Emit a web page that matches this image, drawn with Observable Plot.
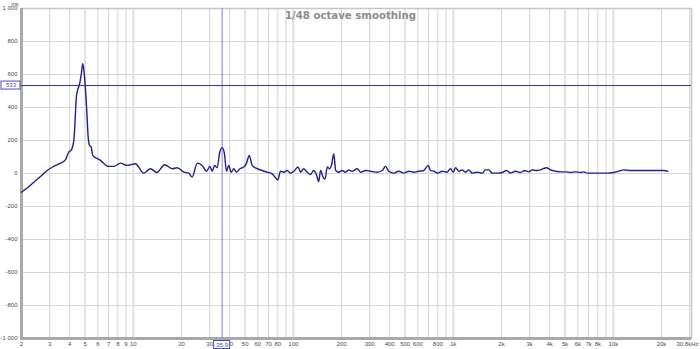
<!DOCTYPE html>
<html>
<head>
<meta charset="utf-8">
<script src="https://cdn.jsdelivr.net/npm/d3@7"></script>
<script src="https://cdn.jsdelivr.net/npm/@observablehq/plot@0.6"></script>
<style>
  html, body { margin: 0; padding: 0; background: #ffffff; }
  #chart svg { display: block; }
</style>
</head>
<body>
<div id="chart"></div>
<script>
// ---- Data (frequency in Hz, group delay in ms) ----
const freqs = [2, 2.17, 2.39, 2.63, 2.89, 3.18, 3.51, 3.77, 3.95, 4.09, 4.25, 4.41, 4.5, 4.63, 4.74, 4.83, 4.95, 5.10, 5.22, 5.32, 5.45, 5.58, 6.23, 7.02, 7.55, 8.31, 9.15, 10.3, 11.6, 12.8, 14.0, 15.7, 17.5, 18.8, 20.7, 22.2, 23.3, 25.1, 26.9, 28.7, 30.1, 31.1, 32.2, 33.4, 34.7, 35.9, 37.1, 38.2, 39.5, 40.9, 42.5, 44.1, 46.3, 49.0, 51.0, 53.0, 55.3, 59.4, 63.9, 68.6, 73.8, 77.4, 80.0, 83.1, 87.2, 91.5, 96.0, 100.7, 107, 111, 116, 122, 128, 134, 140, 144, 148, 154, 158, 163, 169, 173, 179, 184, 192, 202, 212, 222, 233, 251, 263, 283, 304, 334, 359, 377, 395, 425, 456, 490, 527, 566, 608, 654, 697, 720, 755, 800, 852, 915, 960, 998, 1032, 1082, 1136, 1191, 1249, 1312, 1410, 1515, 1589, 1666, 1750, 1880, 2020, 2150, 2276, 2446, 2629, 2785, 2962, 3112, 3310, 3506, 3677, 3822, 4049, 4352, 4676, 5024, 5398, 5800, 6233, 6538, 6866, 7550, 8314, 9153, 10066, 10816, 11624, 12802, 14096, 16280, 18800, 20674, 21898];
const delays = [-114, -88, -53, -18, 18, 43, 63, 84, 130, 141, 202, 467, 510, 549, 610, 667, 589, 405, 222, 171, 161, 110, 80, 43, 43, 63, 49, 59, 2, 29, 6, 53, 29, 35, 8, 2, -22, 63, 49, 14, 43, 14, 49, 35, 130, 157, 120, 14, 49, 8, 29, 8, 29, 39, 63, 110, 49, 29, 18, 8, -2, -26, -39, 14, 8, 18, 2, 14, 39, 8, 29, 8, -6, 18, -12, -49, 18, -26, -33, 39, 29, 49, 120, 18, 8, 18, 8, 22, 14, 29, 8, 18, 14, 8, 18, 43, 14, 2, 14, 2, 14, 8, 14, 18, 49, 18, 14, 2, 14, 8, 29, 8, 35, 14, 22, 8, 22, 2, 8, 2, 22, 22, 2, 2, 6, 18, 2, 14, 6, 18, 10, 22, 18, 22, 31, 35, 22, 14, 10, 10, 6, 10, 6, 10, 2, 2, 2, 2, 6, 14, 22, 18, 18, 18, 18, 18, 14];

// ---- Axes / tick labels ----
const xDomain = [2, 30800];
const yDomain = [-1000, 1000];
const gridFreqs = [2,3,4,5,6,7,8,9,10,20,30,40,50,60,70,80,90,100,200,300,400,500,600,700,800,900,1000,2000,3000,4000,5000,6000,7000,8000,9000,10000,20000,30000];
const majorGridFreqs = [5, 10, 50, 100, 500, 1000, 5000, 10000];
const xTickValues = [2,3,4,5,6,7,8,9,10,20,30,40,50,60,70,80,100,200,300,400,500,600,800,1000,2000,3000,4000,5000,6000,7000,8000,10000,20000];
const xTickLabels = ["2","3","4","5","6","7","8","9","10","20","30","40","50","60","70","80","100","200","300","400","500","600","800","1k","2k","3k","4k","5k","6k","7k","8k","10k","20k"];
const xEndValue = 30800;
const xEndLabel = "30,8kHz";
const yTickValues = [-1000,-800,-600,-400,-200,0,200,400,600,800,1000];
const yTickLabels = ["-1 000","-800","-600","-400","-200","0","200","400","600","800","1 000"];
const yUnit = "ms";
const title = "1/48 octave smoothing";
const cursorFreq = 35.9;
const cursorFreqLabel = "35,9";
const cursorDelay = 533;
const cursorDelayLabel = "533";

const data = freqs.map((f, i) => ({f, d: delays[i]}));

const FONT = "'Liberation Sans', Arial, sans-serif";
const cursorBlue = "#4848d0";
const labelGray = "#4a4a4a";

const chart = Plot.plot({
  width: 700,
  height: 349,
  marginLeft: 21,
  marginRight: 9,
  marginTop: 8,
  marginBottom: 11,
  style: {fontFamily: FONT, background: "#ffffff", overflow: "visible"},
  x: {type: "log", domain: xDomain, label: null, axis: null},
  y: {domain: yDomain, label: null, axis: null},
  marks: [
    // grid
    Plot.ruleY(yTickValues, {stroke: "#d6d6d6", strokeWidth: 1}),
    Plot.ruleX(gridFreqs, {stroke: "#d2d2d2", strokeWidth: 1}),
    Plot.ruleX(majorGridFreqs, {stroke: "#e2e2e2", strokeWidth: 2}),
    // frame
    Plot.frame({stroke: "#c6c6c6", strokeWidth: 1.5}),
    Plot.ruleX([xDomain[0]], {stroke: "#a9a9a9", strokeWidth: 3}),
    Plot.ruleY([yDomain[0]], {stroke: "#a9a9a9", strokeWidth: 3, insetLeft: -1}),
    // title
    Plot.text([title], {frameAnchor: "top", dx: -6, dy: 3, lineAnchor: "top", fontSize: 10.2, fontWeight: "bold", fill: "#8c8c8c", fontFamily: "'DejaVu Sans', Verdana, sans-serif"}),
    // cursors
    Plot.ruleX([cursorFreq], {stroke: "#7a7ae6", strokeWidth: 1}),
    Plot.ruleY([cursorDelay], {stroke: "#34348c", strokeWidth: 1}),
    // curve
    Plot.line(data, {x: "f", y: "d", stroke: "#1e1e9a", strokeWidth: 1.4, curve: "monotone-x"}),
    // y tick labels
    Plot.text(yTickValues, {x: () => xDomain[0], y: d => d, text: (d, i) => yTickLabels[i], textAnchor: "end", dx: -4, fontSize: 6, fill: labelGray}),
    // x tick labels
    Plot.text(xTickValues, {x: d => d, y: () => yDomain[0], text: (d, i) => xTickLabels[i], dy: 6, fontSize: 6, fill: labelGray}),
    Plot.text([xEndValue], {x: d => d, y: () => yDomain[0], text: () => xEndLabel, dy: 6, dx: -4, fontSize: 6, fill: labelGray}),
    Plot.text([yUnit], {frameAnchor: "top-left", textAnchor: "end", lineAnchor: "bottom", dx: -3, dy: -3, fontSize: 5.5, fill: labelGray}),
    // cursor value boxes
    Plot.rect([cursorDelay], {x1: () => xDomain[0], x2: () => xDomain[0], y1: d => d, y2: d => d, insetLeft: -20, insetRight: 1, insetTop: -4, insetBottom: -4, fill: "white", stroke: cursorBlue, strokeWidth: 1}),
    Plot.text([cursorDelay], {x: () => xDomain[0], y: d => d, text: () => cursorDelayLabel, dx: -10.5, fontSize: 6, fill: cursorBlue}),
    Plot.rect([cursorFreq], {x1: d => d, x2: d => d, y1: () => yDomain[0], y2: () => yDomain[0], insetLeft: -8, insetRight: -8, insetTop: 2.5, insetBottom: -10.5, fill: "white", stroke: cursorBlue, strokeWidth: 1}),
    Plot.text([cursorFreq], {x: d => d, y: () => yDomain[0], text: () => cursorFreqLabel, dy: 6.5, fontSize: 6, fill: cursorBlue})
  ]
});
document.getElementById("chart").appendChild(chart);
</script>
</body>
</html>
